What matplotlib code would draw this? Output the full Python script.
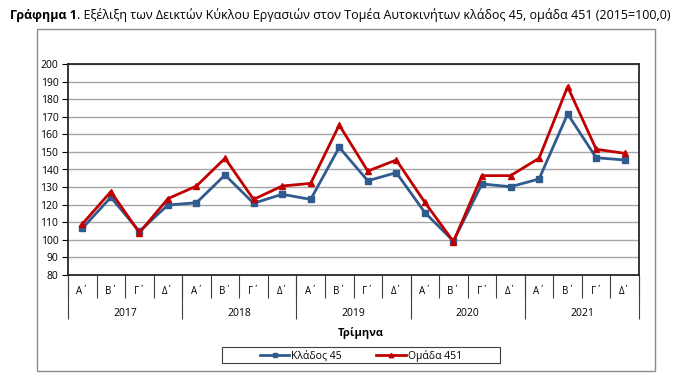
import matplotlib
matplotlib.use("Agg")
import matplotlib.pyplot as plt
from matplotlib.patches import Rectangle
import numpy as np

plt.rcParams['font.family'] = ['Open Sans', 'DejaVu Sans']

years = ["2017", "2018", "2019", "2020", "2021"]
quarters = ["Α΄", "Β΄", "Γ΄", "Δ΄"]
klados_45 = [106.5, 124.2, 104.8, 119.8, 121.1, 136.9, 120.8, 125.9, 123.0, 152.6,
             133.6, 138.2, 115.5, 99.3, 131.8, 130.2, 134.6, 171.6, 146.7, 145.4]
omada_451 = [109.0, 127.4, 104.1, 123.4, 130.6, 146.4, 123.0, 130.6, 132.1, 165.3,
             139.1, 145.4, 121.3, 99.0, 136.5, 136.5, 146.4, 187.1, 151.5, 149.2]
series_names = ["Κλάδος 45", "Ομάδα 451"]
title_bold = "Γράφημα 1"
title_rest = ". Εξέλιξη των Δεικτών Κύκλου Εργασιών στον Τομέα Αυτοκινήτων κλάδος 45, ομάδα 451 (2015=100,0)"
xlabel = "Τρίμηνα"

W, H = 700, 379
fig = plt.figure(figsize=(W/100, H/100), dpi=100)

# outer chart border
fig.patches.append(Rectangle((37/W, 1-371/H), (655-37)/W, (371-29)/H,
                             transform=fig.transFigure, fill=False,
                             edgecolor='#8c8c8c', linewidth=1.0))
# legend frame
fig.patches.append(Rectangle((222/W, 1-363/H), (500-222)/W, (363-347)/H,
                             transform=fig.transFigure, fill=False,
                             edgecolor='#404040', linewidth=0.8))

ax = fig.add_axes([68/W, 1-275/H, (639-68)/W, (275-64)/H])
n = len(years) * len(quarters)
x = np.arange(n)
blue = '#2f5b8e'
red = '#c00000'
ax.plot(x, klados_45, color=blue, lw=2.0, marker='s', ms=4.2, zorder=3,
        label=series_names[0])
ax.plot(x, omada_451, color=red, lw=2.0, marker='^', ms=4, zorder=4,
        label=series_names[1])

ax.set_xlim(-0.5, n-0.5)
ax.set_ylim(80, 200)
ax.set_yticks(np.arange(80, 201, 10))
ax.yaxis.grid(True, color='#a6a6a6', lw=1.0)
ax.set_axisbelow(True)
ax.tick_params(axis='y', length=4, width=0.8, pad=3, labelsize=7.5,
               colors='#000000')
for s in ax.spines.values():
    s.set_color('#262626')
    s.set_linewidth(1.3)

# quarter labels and separators
ax.set_xticks(x)
ax.set_xticklabels(quarters * len(years), fontsize=7)
ax.tick_params(axis='x', which='major', length=0, pad=8)
ax.set_xticks(np.arange(-0.5, n, 1), minor=True)
ax.tick_params(axis='x', which='minor', length=16.5, width=0.8, color='#404040')

# year labels and separators
sec = ax.secondary_xaxis('bottom')
sec.set_xticks([i*4 + 1.5 for i in range(len(years))])
sec.set_xticklabels(years, fontsize=7.5)
sec.tick_params(axis='x', which='major', length=0, pad=24)
sec.set_xticks([i*4 - 0.5 for i in range(len(years)+1)], minor=True)
sec.tick_params(axis='x', which='minor', length=31.5, width=0.8, color='#404040')
sec.spines['bottom'].set_visible(False)

fig.text(361/W, 1-333/H, xlabel, ha='center', va='center', fontsize=8,
         fontweight='bold')

leg = fig.legend(loc='center', bbox_to_anchor=(361/W, 1-355.5/H), ncol=2,
                 frameon=False, fontsize=7.5, handlelength=2.8,
                 columnspacing=3.3, borderpad=0.1, handletextpad=0.2,
                 markerscale=0.8)

# title
t1 = fig.text(10/W, 1-15/H, title_bold, fontsize=9.0, fontweight='bold',
              va='center', ha='left')
fig.canvas.draw()
bb = t1.get_window_extent()
fig.text(bb.x1/W, 1-15/H, title_rest, fontsize=9.0, va='center', ha='left')

fig.savefig('out.png', dpi=100)
